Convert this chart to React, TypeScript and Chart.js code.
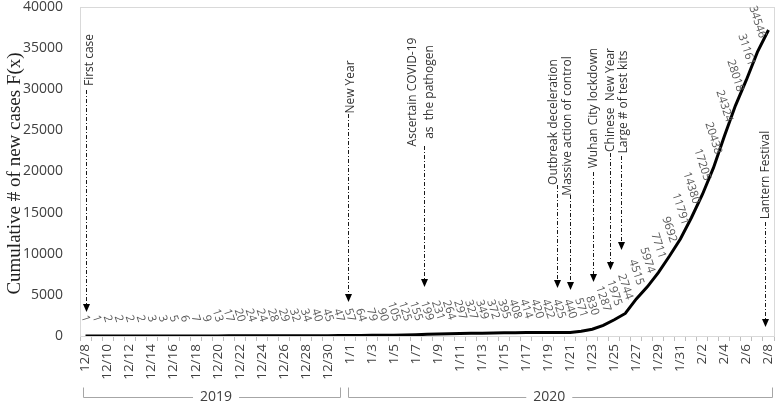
import React, { useEffect, useRef } from 'react';
import { Chart, registerables } from 'chart.js';

Chart.register(...registerables);

// ---------- data ----------
const dates = [
  '12/8', '12/9', '12/10', '12/11', '12/12', '12/13', '12/14', '12/15', '12/16', '12/17', '12/18', '12/19',
  '12/20', '12/21', '12/22', '12/23', '12/24', '12/25', '12/26', '12/27', '12/28', '12/29', '12/30', '12/31',
  '1/1', '1/2', '1/3', '1/4', '1/5', '1/6', '1/7', '1/8', '1/9', '1/10', '1/11', '1/12', '1/13', '1/14', '1/15',
  '1/16', '1/17', '1/18', '1/19', '1/20', '1/21', '1/22', '1/23', '1/24', '1/25', '1/26', '1/27', '1/28', '1/29',
  '1/30', '1/31', '2/1', '2/2', '2/3', '2/4', '2/5', '2/6', '2/7', '2/8',
];

const cumulativeCases = [
  1, 1, 2, 2, 2, 2, 3, 3, 5, 6, 7, 9,
  13, 17, 20, 24, 24, 28, 29, 32, 34, 40, 45, 47,
  57, 64, 79, 90, 105, 125, 155, 199, 231, 264, 297, 327, 349, 372, 395,
  408, 414, 420, 422, 425, 440, 571, 830, 1287, 1975, 2744, 4515, 5974, 7711,
  9692, 11791, 14380, 17205, 20438, 24324, 28018, 31161, 34546, 37198,
];

// which points carry a value label (the last one is off the top of the picture)
const labelledPoints = cumulativeCases.map((_, i) => i < cumulativeCases.length - 1);

const yTickValues = [0, 5000, 10000, 15000, 20000, 25000, 30000, 35000, 40000];
const yAxisTitle = 'Cumulative # of new cases F(x)';

const years = [
  { label: '2019', from: -0.25, to: 23.1, textAt: 11.85 },
  { label: '2020', from: 23.8, to: 62.3, textAt: 42.1 },
];

const events = [
  { at: 0.05, lines: ['First case'], cy: 60, dx: 3, lineTop: 90, tip: 312 },
  { at: 23.8, lines: ['New Year'], cy: 87, dx: 2, lineTop: 114, tip: 302 },
  { at: 30.7, lines: ['Ascertain COVID-19', 'as  the pathogen'], cy: 92, dx: -3, lineTop: 146, tip: 287 },
  { at: 42.8, lines: ['Outbreak deceleration'], cy: 122, dx: -4, lineTop: 185, tip: 288 },
  { at: 44.0, lines: ['Massive action of control'], cy: 126, dx: -3, lineTop: 195, tip: 290 },
  { at: 46.05, lines: ['Wuhan City lockdown'], cy: 108, dx: 0, lineTop: 172, tip: 282 },
  { at: 47.6, lines: ['Chinese  New Year'], cy: 100, dx: 0, lineTop: 153, tip: 270 },
  { at: 48.6, lines: ['Large # of test kits'], cy: 102, dx: 2, lineTop: 156, tip: 250 },
  { at: 61.7, lines: ['Lantern Festival'], cy: 175, dx: 0, lineTop: 222, tip: 327 },
];

const GRAY_TEXT = '#595959';
const AXIS_TEXT = '#404040';
const SANS = '"Open Sans", "DejaVu Sans", sans-serif';

// ---------- plugins ----------
const plotBorder = {
  id: 'plotBorder',
  beforeDatasetsDraw(chart: any) {
    const { ctx, chartArea: a } = chart;
    ctx.save();
    ctx.strokeStyle = '#d9d9d9';
    ctx.lineWidth = 1;
    ctx.strokeRect(Math.round(a.left) + 0.5, Math.round(a.top) + 0.5, Math.round(a.right - a.left), Math.round(a.bottom - a.top));
    ctx.restore();
  },
};

const valueLabels = {
  id: 'valueLabels',
  afterDatasetsDraw(chart: any) {
    const { ctx } = chart;
    const xs = chart.scales.x;
    const ys = chart.scales.y;
    const theta = (72 * Math.PI) / 180;
    const gap = 13;
    const h = 8;
    ctx.save();
    ctx.font = `11.5px ${SANS}`;
    ctx.fillStyle = GRAY_TEXT;
    ctx.textAlign = 'center';
    ctx.textBaseline = 'middle';
    cumulativeCases.forEach((v, i) => {
      if (!labelledPoints[i]) return;
      const txt = String(v);
      const L = ctx.measureText(txt).width;
      const H = L * Math.sin(theta) + h * Math.cos(theta);
      const px = xs.getPixelForValue(i);
      const py = ys.getPixelForValue(v);
      ctx.save();
      ctx.translate(px, py - gap - H / 2);
      ctx.rotate(theta);
      ctx.fillText(txt, 0, 0);
      ctx.restore();
    });
    ctx.restore();
  },
};

const eventMarkers = {
  id: 'eventMarkers',
  afterDatasetsDraw(chart: any) {
    const { ctx } = chart;
    const xs = chart.scales.x;
    ctx.save();
    events.forEach((e) => {
      const x = Math.round(xs.getPixelForValue(e.at)) + 0.5;
      ctx.strokeStyle = '#1a1a1a';
      ctx.lineWidth = 1;
      ctx.setLineDash([4, 2, 1, 2]);
      ctx.beginPath();
      ctx.moveTo(x, e.lineTop);
      ctx.lineTo(x, e.tip - 7);
      ctx.stroke();
      ctx.setLineDash([]);
      ctx.fillStyle = '#000';
      ctx.beginPath();
      ctx.moveTo(x - 3.5, e.tip - 8);
      ctx.lineTo(x + 3.5, e.tip - 8);
      ctx.lineTo(x, e.tip);
      ctx.closePath();
      ctx.fill();
      ctx.save();
      ctx.translate(x + e.dx, e.cy);
      ctx.rotate(-Math.PI / 2);
      ctx.font = `12px ${SANS}`;
      ctx.fillStyle = '#333333';
      ctx.textAlign = 'center';
      ctx.textBaseline = 'middle';
      const lh = 17;
      const n = e.lines.length;
      e.lines.forEach((ln, k) => {
        ctx.fillText(ln, 0, (k - (n - 1) / 2) * lh);
      });
      ctx.restore();
    });
    ctx.restore();
  },
};

const extras = {
  id: 'extras',
  afterDraw(chart: any) {
    const { ctx } = chart;
    const xs = chart.scales.x;
    const a = chart.chartArea;
    ctx.save();
    ctx.translate(15, (a.top + a.bottom) / 2 + 2);
    ctx.rotate(-Math.PI / 2);
    ctx.font = '19px "Liberation Serif", "Times New Roman", serif';
    ctx.fillStyle = '#1f1f1f';
    ctx.textAlign = 'center';
    ctx.textBaseline = 'middle';
    ctx.fillText(yAxisTitle, 0, 0);
    ctx.restore();

    ctx.save();
    ctx.font = `14px ${SANS}`;
    ctx.textAlign = 'center';
    ctx.textBaseline = 'middle';
    const yLine = 397.5;
    years.forEach((g) => {
      const x1 = Math.round(xs.getPixelForValue(g.from)) + 0.5;
      const x2 = Math.round(xs.getPixelForValue(g.to)) + 0.5;
      const tx = xs.getPixelForValue(g.textAt);
      const w = ctx.measureText(g.label).width;
      ctx.strokeStyle = '#a6a6a6';
      ctx.lineWidth = 1;
      ctx.beginPath();
      ctx.moveTo(x1, yLine - 10);
      ctx.lineTo(x1, yLine);
      ctx.lineTo(tx - w / 2 - 7, yLine);
      ctx.moveTo(tx + w / 2 + 7, yLine);
      ctx.lineTo(x2, yLine);
      ctx.lineTo(x2, yLine - 10);
      ctx.stroke();
      ctx.fillStyle = AXIS_TEXT;
      ctx.fillText(g.label, tx, yLine);
    });
    ctx.restore();
  },
};

export default function App() {
  const canvasRef = useRef<HTMLCanvasElement | null>(null);

  useEffect(() => {
    if (!canvasRef.current) return;
    const chart = new Chart(canvasRef.current, {
      type: 'line',
      data: {
        labels: dates,
        datasets: [
          {
            data: cumulativeCases,
            borderColor: '#000000',
            borderWidth: 3,
            pointRadius: 0,
            tension: 0,
            fill: false,
          },
        ],
      },
      options: {
        animation: false,
        responsive: false,
        maintainAspectRatio: false,
        layout: { padding: { top: 7, right: 4, left: 0, bottom: 0 } },
        plugins: {
          legend: { display: false },
          tooltip: { enabled: false },
          title: { display: false },
        },
        scales: {
          x: {
            type: 'category',
            offset: true,
            border: { display: false },
            grid: {
              display: true,
              drawOnChartArea: false,
              drawTicks: true,
              tickLength: 5,
              offset: true,
              color: '#bfbfbf',
            },
            ticks: {
              autoSkip: false,
              minRotation: 90,
              maxRotation: 90,
              padding: 3,
              color: AXIS_TEXT,
              font: { family: SANS, size: 13.5 },
              callback: (_v: any, i: number) => (i % 2 === 0 ? dates[i] : ''),
            },
            afterFit: (s: any) => {
              s.height = 68;
              s.paddingLeft = 0;
              s.paddingRight = 0;
            },
          },
          y: {
            min: 0,
            max: 40000,
            border: { display: false },
            grid: { display: false, drawTicks: false },
            afterBuildTicks: (s: any) => {
              s.ticks = yTickValues.map((v) => ({ value: v }));
            },
            ticks: {
              padding: 17,
              color: AXIS_TEXT,
              font: { family: SANS, size: 14 },
              callback: (v: any) => String(v),
            },
            afterFit: (s: any) => {
              s.width = 80;
              s.paddingTop = 0;
              s.paddingBottom = 0;
            },
          },
        },
      },
      plugins: [plotBorder, valueLabels, eventMarkers, extras],
    });
    return () => chart.destroy();
  }, []);

  return (
    <div style={{ position: 'fixed', left: 0, top: 0, width: 778, height: 404, background: '#fff' }}>
      <canvas ref={canvasRef} width={778} height={404} style={{ display: 'block', width: 778, height: 404 }} />
    </div>
  );
}
